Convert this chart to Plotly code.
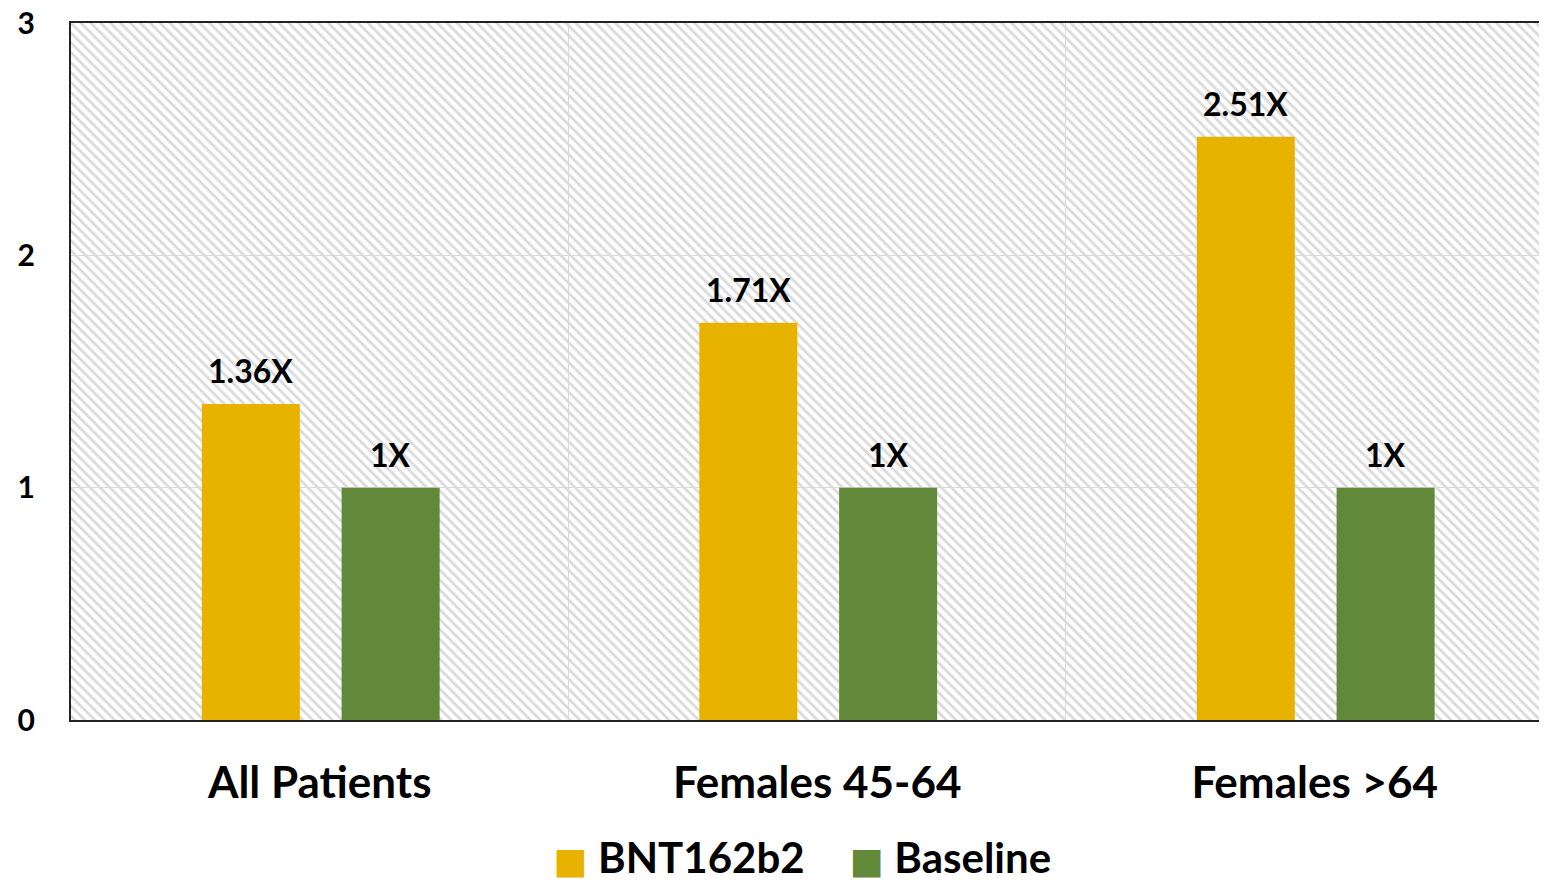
import plotly.graph_objects as go

categories = ["All Patients", "Females 45-64", "Females >64"]
bnt_values = [1.36, 1.71, 2.51]
baseline_values = [1, 1, 1]
series_names = ["BNT162b2", "Baseline"]
y_ticks = [0, 1, 2, 3]

FONT = "Lato"
YELLOW = "#E8B300"
GREEN = "#62883A"

BAR_W = 0.197
OFFS = [-0.237, 0.044]
CAT_PX = 497

fig = go.Figure()

# hatched plot background
fig.add_trace(go.Bar(
    x=[categories[1]], y=[max(y_ticks)], base=0, width=len(categories), offset=-len(categories) / 2,
    marker=dict(color="rgba(0,0,0,0)", line=dict(width=0),
                pattern=dict(shape="\\", fgcolor="#dadada", bgcolor="rgba(0,0,0,0)",
                             size=7, solidity=0.4, fillmode="replace")),
    showlegend=False, hoverinfo="skip",
))

for name, vals, color, off in zip(series_names, [bnt_values, baseline_values], [YELLOW, GREEN], OFFS):
    fig.add_trace(go.Bar(
        x=categories, y=vals, name=name, width=BAR_W, offset=off,
        marker=dict(color=color, line=dict(width=0)),
        legendgroup=name, showlegend=False,
    ))
    # legend entry with a large square swatch
    fig.add_trace(go.Scatter(
        x=[None], y=[None], mode="markers", name=(
            f"<span style='color:{color};font-family:DejaVu Sans;font-size:36px'>■</span> <b>{name}</b>"),
        marker=dict(size=1, color="rgba(0,0,0,0)"),
        legendgroup=name, showlegend=True, hoverinfo="skip",
    ))
    for c, v in zip(categories, vals):
        fig.add_annotation(
            x=c, y=v, text=f"<b>{v:g}X</b>", showarrow=False,
            xref="x", yref="y", yanchor="bottom", yshift=12,
            xshift=(off + BAR_W / 2) * CAT_PX,
            font=dict(family=FONT, size=32, color="black"),
        )

fig.update_layout(
    width=1547, height=883,
    margin=dict(l=63, r=0, t=15, b=171, autoexpand=False),
    barmode="overlay",
    paper_bgcolor="white", plot_bgcolor="white",
    showlegend=True,
    legend=dict(orientation="h", x=0.481, xanchor="center", y=-0.196, yanchor="middle",
                font=dict(family=FONT, size=42, color="black"), itemwidth=30,
                traceorder="normal", itemclick="toggleothers"),
    font=dict(family=FONT, color="black"),
)
fig.update_xaxes(
    range=[-0.5, 2.483], categoryorder="array", categoryarray=categories,
    tickson="boundaries", showgrid=True, gridcolor="#d9d9d9", gridwidth=1,
    ticks="", showline=True, linecolor="#222", linewidth=2, mirror=True,
    tickfont=dict(family=FONT, size=44, color="black"),
    tickvals=categories, ticktext=[f"<b>{c}</b>" for c in categories],
    ticklabelstandoff=23, automargin=False,
)
fig.update_yaxes(
    range=[0, 3], tickvals=y_ticks, ticktext=[f"<b>{t}</b>" for t in y_ticks],
    showgrid=True, gridcolor="#d9d9d9", gridwidth=1, zeroline=False,
    showline=True, linecolor="#222", linewidth=2, mirror=False,
    tickfont=dict(family=FONT, size=30, color="black"),
    ticklabelstandoff=28, ticklabeloverflow="allow", automargin=False,
)

fig.write_html("out.html")
